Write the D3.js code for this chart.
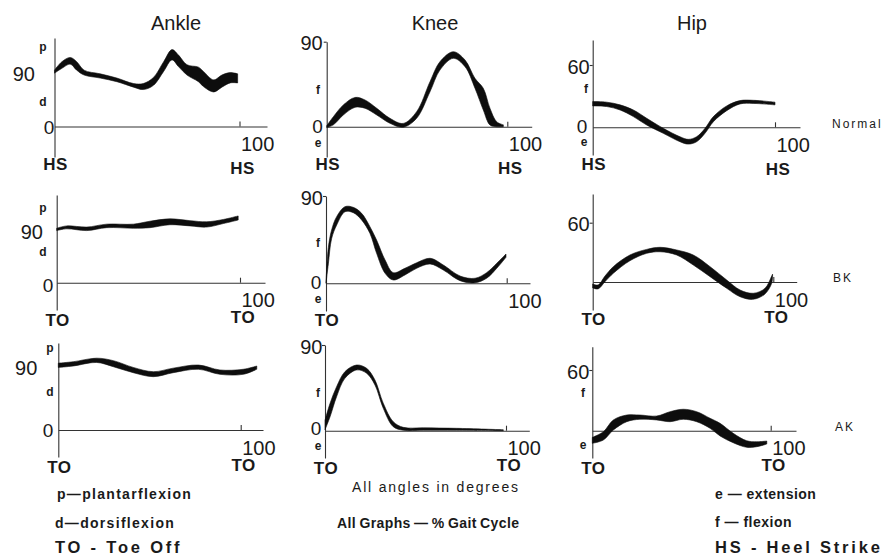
<!DOCTYPE html>
<html>
<head>
<meta charset="utf-8">
<title>Gait angles</title>
<style>
body { margin: 0; background: #fff; }
svg { display: block; }
text { font-family: "Liberation Sans", Arial, sans-serif; fill: #1a1a1a; }
.title { font-size: 20px; }
.num { font-size: 20px; }
.zero { font-size: 19px; }
.ev { font-size: 17px; font-weight: bold; letter-spacing: 0.5px; }
.let { font-size: 12px; font-weight: bold; }
.row { font-size: 12px; letter-spacing: 2px; }
.leg { font-size: 14px; font-weight: bold; letter-spacing: 1.3px; }
.key { font-size: 16.5px; font-weight: bold; letter-spacing: 2.8px; }
.axis path, .axis line { stroke: #333; stroke-width: 1.1px; fill: none; }
.band { fill: #0d0d0d; stroke: #0d0d0d; stroke-width: 0.6px; }
</style>
</head>
<body>
<script src="https://d3js.org/d3.v7.min.js"></script>
<script>

var titles = ["Ankle", "Knee", "Hip"];
var rowNames = ["Normal", "BK", "AK"];

// each row: [% gait cycle, upper edge, lower edge] in degrees
var ankleNormal = [
  [0, 93, 88], [4, 107, 96], [8.5, 114, 103], [12, 107, 93], [16, 93, 85],
  [24.7, 87, 80], [33.7, 80, 74], [42.7, 71, 65], [48, 71, 61], [53.5, 81, 68],
  [59, 107, 91], [63.5, 127, 110], [67, 118, 99], [71.6, 102, 85], [77.8, 98, 74],
  [80.5, 91, 66], [86, 77, 57], [90.5, 85, 65], [95, 89, 72], [99, 87, 72]
];
var kneeNormal = [
  [0, 1, -1], [3.7, 10.6, 2], [9.2, 23, 12.4], [15.7, 31, 20.5], [21.2, 28.3, 19.5],
  [27.7, 19.5, 12.4], [35, 8.9, 3.6], [42.4, 3.5, -0.5], [49.8, 15.9, 8.9],
  [57.2, 47.7, 37], [62.7, 68.8, 60], [70.1, 79.4, 72.4], [76.6, 70.6, 63.5],
  [82.1, 51.2, 40.7], [86.7, 40.7, 17.7], [90.4, 19.5, 1.8], [94.1, 5.3, 0], [97.8, 2, 0]
];
var hipNormal = [
  [0, 24.8, 20.6], [7.7, 24.2, 20], [15, 21.6, 16.7], [22.3, 16.7, 10.3],
  [29.6, 8.7, 2.2], [38.7, -1, -5.8], [47.9, -9.1, -13.9], [52.4, -11.6, -16.2],
  [57, -9.1, -13.9], [61.6, -1, -5.8], [66.2, 10.3, 5.4], [73.5, 20.6, 16],
  [80.8, 25.7, 22.5], [88.1, 26, 23], [100, 24.2, 21.6]
];
var ankleBK = [
  [0, 93, 89], [5.5, 97, 92], [16.4, 95, 89], [27.3, 100, 94], [41.8, 100, 93],
  [50.9, 105, 94], [61.8, 109, 99], [72.7, 106, 97], [81.8, 104, 95],
  [90.9, 108, 101], [99, 114, 107]
];
var kneeBK = [
  [0, 2, 0], [1.3, 37, 20], [3.1, 55, 46], [5.9, 68.7, 60], [10.5, 79, 73.8],
  [15.1, 78.3, 72.8], [19.7, 72.2, 65.3], [24.3, 58.4, 51.5], [28, 44.6, 30.9],
  [32.7, 24, 10.3], [37.2, 11, 3.4], [43.7, 15.5, 8.6], [50.2, 21.2, 15.5],
  [57.6, 25.8, 19.9], [64.9, 18.9, 13.7], [74.2, 7.5, 2.7], [82.5, 5.2, 0.6],
  [88.9, 11, 5.2], [94.5, 20.6, 15.5], [99.6, 30.2, 26.8]
];
var hipBK = [
  [0, -2, -6], [3, -3, -7], [6.8, 6, 0.3], [11.4, 15.5, 8.8], [20.6, 27.3, 21.5],
  [29.9, 33, 29], [37.3, 35.1, 30.6], [46.5, 32.4, 27.3], [55.7, 27.3, 17.2],
  [65, 15.5, 5.4], [74.2, 2, -6.4], [81.6, -8.1, -14.9], [88.9, -11.4, -17.5],
  [95.4, -6.4, -12.1], [99.1, 6, -1.3], [99.6, 8, 5]
];
var ankleAK = [
  [0, 94, 88], [8.2, 96, 90], [21, 101, 95], [30.2, 97.5, 89], [41.1, 88, 80.6],
  [52.1, 82, 75], [63, 87, 80.6], [76.8, 91.4, 85.4], [88.6, 84.4, 78.3],
  [101.4, 85.4, 78.3], [108.8, 90, 85.4]
];
var kneeAK = [
  [0, 11, 1], [2.8, 28.8, 14.7], [6.4, 46.2, 35.7], [11, 62, 55], [17.5, 69, 63.8],
  [23, 65.5, 60.3], [27.6, 53.2, 48], [32.2, 28.8, 23.5], [37.7, 9.5, 4.2],
  [43.3, 3.5, 0.5], [54.3, 3, 0.5], [72.7, 2.5, 0.5], [98.5, 1, 0]
];
var hipAK = [
  [0, -6.6, -12.5], [6.2, -1, -9.2], [11.8, 10.6, 0.7], [19.3, 15.5, 8.9],
  [26.7, 15.5, 11.3], [36.1, 14.5, 10.6], [43.6, 18.8, 8.9], [51, 21.2, 11.3],
  [58.5, 18.8, 8.9], [66, 12.3, 2.4], [71.6, 7.3, -5.2], [79, -2.6, -11.9],
  [86.5, -9.9, -16.4], [92.2, -10.9, -15.8], [97.8, -10.2, -13.2]
];

// panel layout (pixels)
var panels = [
  {data: ankleNormal, col: 0, row: 0, x0: 54.5, x100: 239.5, xEnd: 267, base: 126.5, ref: 90, refY: 72, top: 38, bot: 157,
   refDx: -19.5, tick: false, up: ["p", 43, 47], dn: ["d", 43, 102], zero: [49, 127], ev: "HS", evR: true},
  {data: kneeNormal, col: 1, row: 0, x0: 326.7, x100: 507.3, xEnd: 531.7, base: 126.7, ref: 90, refY: 41.7, top: 41.7, bot: 157,
   refDx: -4, tick: true, up: ["f", 318, 90], dn: ["e", 318, 143], zero: [317.5, 126], ev: "HS", evR: true},
  {data: hipNormal, col: 2, row: 0, x0: 592.7, x100: 775, xEnd: 800, base: 127.3, ref: 60, refY: 65, top: 40, bot: 155,
   refDx: -3, tick: true, up: ["f", 586, 89], dn: ["e", 584, 142], zero: [582, 126], ev: "HS", evR: true},
  {data: ankleBK, col: 0, row: 1, x0: 56.7, x100: 240, xEnd: 265, base: 282.7, ref: 90, refY: 230, top: 195, bot: 310,
   refDx: -13.7, tick: false, up: ["p", 43, 208], dn: ["d", 43, 252], zero: [48, 285], ev: "TO", evR: true},
  {data: kneeBK, col: 1, row: 1, x0: 326, x100: 506.7, xEnd: 530, base: 283.3, ref: 90, refY: 196, top: 196, bot: 311,
   refDx: -3, tick: true, up: ["f", 318, 243], dn: ["e", 318, 299], zero: [316, 282], ev: "TO", evR: false},
  {data: hipBK, col: 2, row: 1, x0: 592.7, x100: 773.3, xEnd: 796.7, base: 282, ref: 60, refY: 222.7, top: 194, bot: 310,
   refDx: -3, tick: true, up: null, dn: null, zero: null, ev: "TO", evR: true},
  {data: ankleAK, col: 0, row: 2, x0: 58.3, x100: 240.7, xEnd: 263, base: 430, ref: 90, refY: 366, top: 343, bot: 457,
   refDx: -21, tick: false, up: ["p", 50, 348], dn: ["d", 50, 392], zero: [48, 430], ev: "TO", evR: true},
  {data: kneeAK, col: 1, row: 2, x0: 325, x100: 506, xEnd: 529.3, base: 430.7, ref: 90, refY: 345, top: 345, bot: 458,
   refDx: -2.5, tick: true, up: ["f", 318, 393], dn: ["e", 318, 446], zero: [316, 428], ev: "TO", evR: true},
  {data: hipAK, col: 2, row: 2, x0: 592.3, x100: 770.7, xEnd: 796, base: 430.7, ref: 60, refY: 370, top: 346.7, bot: 458,
   refDx: -3, tick: true, up: ["f", 583, 393], dn: ["e", 583, 445], zero: null, ev: "TO", evR: true}
];

var width = 885, height = 556;

var svg = d3.select("body").append("svg")
    .attr("width", width)
    .attr("height", height);

// column titles
svg.selectAll(".title")
    .data(titles)
    .enter().append("text")
    .attr("class", "title")
    .attr("x", function(d, i) { return [176, 435, 692][i]; })
    .attr("y", 23)
    .attr("text-anchor", "middle")
    .attr("dominant-baseline", "central")
    .text(function(d) { return d; });

// row names on the right
svg.selectAll(".row")
    .data(rowNames)
    .enter().append("text")
    .attr("class", "row")
    .attr("x", function(d, i) { return [832, 833, 835][i]; })
    .attr("y", function(d, i) { return [124, 278, 427][i]; })
    .attr("dominant-baseline", "central")
    .text(function(d) { return d; });

panels.forEach(function(p) {
  var x = d3.scaleLinear().domain([0, 100]).range([p.x0, p.x100]);
  var y = d3.scaleLinear().domain([0, p.ref]).range([p.base, p.refY]);

  var g = svg.append("g");

  // x axis: baseline with a small upward tick at 100
  var xa = x.copy().domain([0, x.invert(p.xEnd)]).range([p.x0, p.xEnd]);
  g.append("g")
      .attr("class", "axis")
      .attr("transform", "translate(0," + p.base + ")")
      .call(d3.axisBottom(xa).tickValues([100]).tickSize(-5).tickSizeOuter(0).tickFormat(""));

  // y axis, running past the baseline
  var ya = y.copy().domain([y.invert(p.bot), y.invert(p.top)]).range([p.bot, p.top]);
  g.append("g")
      .attr("class", "axis")
      .attr("transform", "translate(" + p.x0 + ",0)")
      .call(d3.axisLeft(ya).tickValues(p.tick ? [p.ref] : []).tickSize(3).tickSizeOuter(0).tickFormat(""));

  // the range band
  var area = d3.area()
      .x(function(d) { return x(d[0]); })
      .y0(function(d) { return y(d[2]); })
      .y1(function(d) { return y(d[1]); })
      .curve(d3.curveCatmullRom.alpha(0.5));

  g.append("path")
      .datum(p.data)
      .attr("class", "band")
      .attr("d", area);

  // labels
  g.append("text")
      .attr("class", "num")
      .attr("x", p.x0 + p.refDx)
      .attr("y", y(p.ref) + 1.5)
      .attr("text-anchor", "end")
      .attr("dominant-baseline", "central")
      .text(p.ref);

  if (p.zero) {
    g.append("text")
        .attr("class", "zero")
        .attr("x", p.zero[0])
        .attr("y", p.zero[1])
        .attr("text-anchor", "middle")
        .attr("dominant-baseline", "central")
        .text("0");
  }

  [p.up, p.dn].forEach(function(l) {
    if (!l) return;
    g.append("text")
        .attr("class", "let")
        .attr("x", l[1])
        .attr("y", l[2])
        .attr("text-anchor", "middle")
        .attr("dominant-baseline", "central")
        .text(l[0]);
  });

  g.append("text")
      .attr("class", "num")
      .attr("x", x(100) + 1.5)
      .attr("y", y(0) + 17.5)
      .attr("dominant-baseline", "central")
      .text("100");

  g.append("text")
      .attr("class", "ev")
      .attr("x", p.x0 + 1)
      .attr("y", y(0) + 37.5)
      .attr("text-anchor", "middle")
      .attr("dominant-baseline", "central")
      .text(p.ev);

  if (p.evR) {
    g.append("text")
        .attr("class", "ev")
        .attr("x", x(100) + 3)
        .attr("y", y(0) + (p.row === 0 ? 42 : 35))
        .attr("text-anchor", "middle")
        .attr("dominant-baseline", "central")
        .text(p.ev);
  }
});

// notes along the bottom
var notes = [
  {t: "p\u2014plantarflexion", x: 57, y: 494, c: "leg"},
  {t: "d\u2014dorsiflexion", x: 55, y: 523, c: "leg"},
  {t: "TO - Toe Off", x: 55, y: 547, c: "key"},
  {t: "All angles in degrees", x: 352, y: 487, c: "leg2"},
  {t: "All Graphs \u2014 % Gait Cycle", x: 337, y: 523, c: "leg3"},
  {t: "e \u2014 extension", x: 715, y: 494, c: "leg4"},
  {t: "f \u2014 flexion", x: 715, y: 522, c: "leg4"},
  {t: "HS - Heel Strike", x: 715, y: 547, c: "key"}
];

svg.selectAll(".note")
    .data(notes)
    .enter().append("text")
    .attr("class", function(d) { return "note " + d.c; })
    .attr("x", function(d) { return d.x; })
    .attr("y", function(d) { return d.y; })
    .attr("dominant-baseline", "central")
    .style("font-size", function(d) { return (d.c === "leg2" || d.c === "leg3" || d.c === "leg4") ? "14px" : null; })
    .style("font-weight", function(d) { return d.c === "leg2" ? "normal" : (d.c === "leg3" || d.c === "leg4") ? "bold" : null; })
    .style("letter-spacing", function(d) { return d.c === "leg2" ? "1.8px" : d.c === "leg3" ? "0.4px" : d.c === "leg4" ? "0.5px" : null; })
    .style("word-spacing", function(d) { return d.c === "leg3" ? "-1px" : null; })
    .text(function(d) { return d.t; });

</script>
</body>
</html>
